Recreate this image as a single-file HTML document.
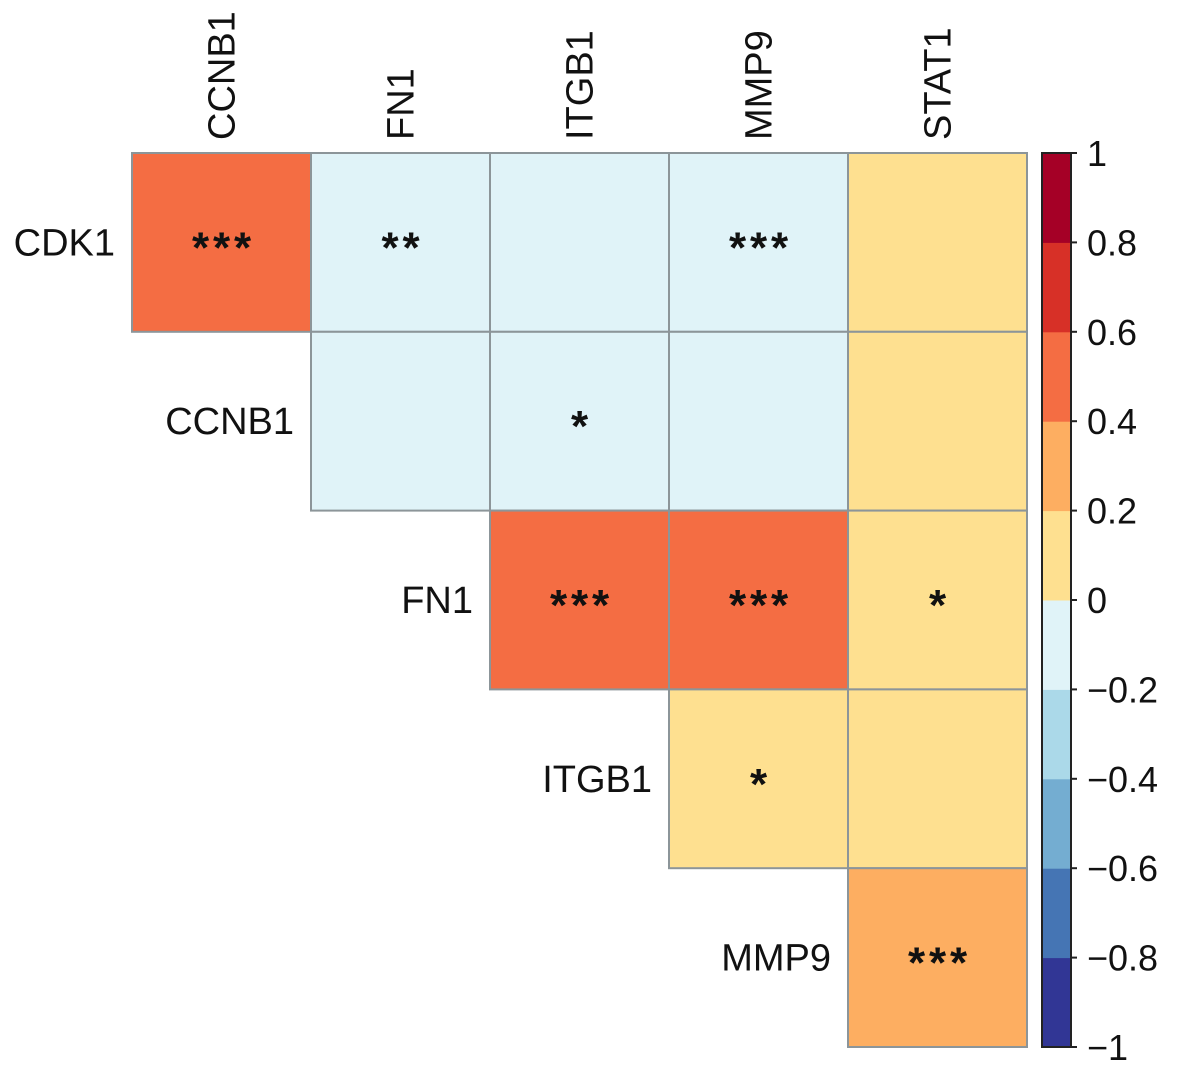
<!DOCTYPE html>
<html><head><meta charset="utf-8"><style>
html,body{margin:0;padding:0;background:#fff;}
svg{display:block;font-family:"Liberation Sans",Arial,sans-serif;}
</style></head><body>
<svg id="chart" width="1181" height="1071" viewBox="0 0 1181 1071"></svg>
<script>
const colLabels = ["CCNB1","FN1","ITGB1","MMP9","STAT1"];
const rowLabels = ["CDK1","CCNB1","FN1","ITGB1","MMP9"];
// upper-triangle values: row i, column j (j>=i)
const values = [
  [0.5,-0.1,-0.1,-0.1,0.1],
  [null,-0.1,-0.1,-0.1,0.1],
  [null,null,0.5,0.5,0.1],
  [null,null,null,0.1,0.1],
  [null,null,null,null,0.3]
];
const stars = [
  ["***","**","","***",""],
  ["","","*","",""],
  ["","","***","***","*"],
  ["","","","*",""],
  ["","","","","***"]
];
const barTicks = [1,0.8,0.6,0.4,0.2,0,-0.2,-0.4,-0.6,-0.8,-1];
const palette = ["#313695","#4575B4","#74ADD1","#ABD9E9","#E0F3F8","#FEE090","#FDAE61","#F46D43","#D73027","#A50026"];

const NS="http://www.w3.org/2000/svg";
const svg=document.getElementById('chart');
function mk(t,a){const e=document.createElementNS(NS,t);for(const k in a)e.setAttribute(k,a[k]);svg.appendChild(e);return e;}
const x0=132,y0=153,cw=179,ch=178.8;
const xs=j=>x0+j*cw, ys=i=>y0+i*ch;
function color(v){let k=Math.floor((v+1)/0.2);k=Math.max(0,Math.min(9,k));return palette[k];}

for(let i=0;i<values.length;i++)for(let j=0;j<values[i].length;j++){
  const v=values[i][j]; if(v===null)continue;
  const r=mk('rect',{x:xs(j),y:ys(i),width:cw,height:ch,fill:color(v),stroke:'#8c9599','stroke-width':2});
  
  
  if(stars[i][j]){
    const n=stars[i][j].length;
    for(let s=0;s<n;s++){
      const t=mk('text',{x:xs(j)+cw/2+(s-(n-1)/2)*21,y:ys(i)+ch/2+20,'text-anchor':'middle','font-size':44,'font-weight':'bold',fill:'#111'});
      t.textContent='*';
      
      
    }
  }
}
colLabels.forEach((c,j)=>{
  const cx=xs(j)+cw/2+13, cy=140;
  const t=mk('text',{x:cx,y:cy,'font-size':38,fill:'#111',transform:`rotate(-90 ${cx} ${cy})`});
  t.textContent=c;
  
  
});
rowLabels.forEach((r,i)=>{
  const t=mk('text',{x:xs(i)-17,y:ys(i)+ch/2+13,'text-anchor':'end','font-size':38,fill:'#111'});
  t.textContent=r;
  
  
});
// colorbar
const bx=1042,bw=29,by0=153,by1=1047;
const by=v=>by0+(1-v)/2*(by1-by0);
palette.forEach((c,k)=>{
  const lo=-1+k*0.2, hi=lo+0.2;
  const r=mk('rect',{x:bx,y:by(hi),width:bw,height:by(lo)-by(hi)+0.5,fill:c});
  
  
});
const frame=mk('rect',{x:bx,y:by0,width:bw,height:by1-by0,fill:'none',stroke:'#222','stroke-width':2});


barTicks.forEach(v=>{
  const l=mk('line',{x1:bx+bw,x2:bx+bw+6,y1:by(v),y2:by(v),stroke:'#222','stroke-width':2});
  
  
  const t=mk('text',{x:1087,y:by(v)+13,'font-size':36,fill:'#111'});
  t.textContent=v<0?'\u2212'+Math.abs(v):String(v);
  
  
});
</script>
</body></html>
